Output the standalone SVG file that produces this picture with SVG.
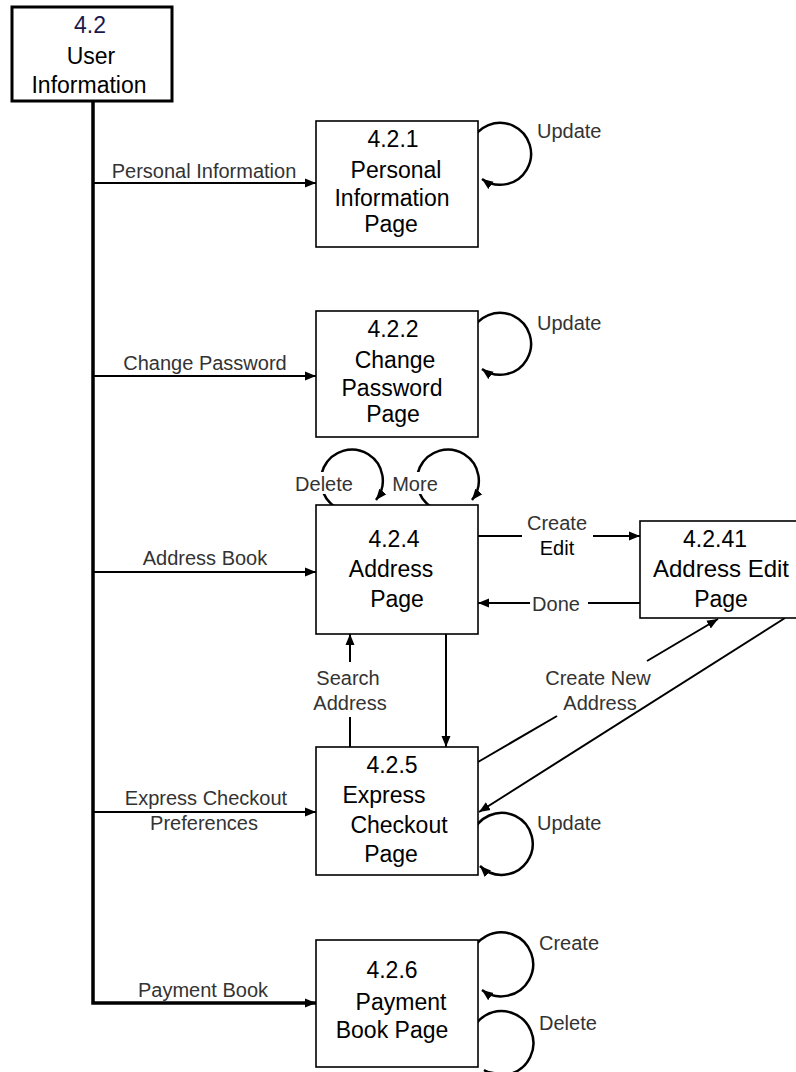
<svg xmlns="http://www.w3.org/2000/svg" width="796" height="1072" viewBox="0 0 796 1072">
<defs>
<marker id="ah" markerUnits="userSpaceOnUse" markerWidth="12" markerHeight="10" refX="11" refY="5" orient="auto">
<path d="M0,0.5 L11,5 L0,9.5 Z" fill="#000"/>
</marker>
<style>
.box{fill:#fff;stroke:#000;stroke-width:1.6}
.nt{font-family:"Liberation Sans",Arial,sans-serif;font-size:23px;fill:#000;text-anchor:middle}
.lb{font-family:"Liberation Sans",Arial,sans-serif;font-size:20px;fill:#333}
.mid{text-anchor:middle}
.ln{fill:none;stroke:#000;stroke-width:2}
.lp{fill:none;stroke:#000;stroke-width:2.5}
.bg{fill:#fff}
</style>
</defs>
<rect width="796" height="1072" fill="#fff"/>

<g id="connectors">
<path d="M93,101 V1003 H316" fill="none" stroke="#000" stroke-width="3.5" marker-end="url(#ah)"/>
<line class="ln" x1="93" y1="183" x2="316" y2="183" marker-end="url(#ah)"/>
<line class="ln" x1="93" y1="376" x2="316" y2="376" marker-end="url(#ah)"/>
<line class="ln" x1="93" y1="572" x2="316" y2="572" marker-end="url(#ah)"/>
<line class="ln" x1="93" y1="812" x2="316" y2="812" marker-end="url(#ah)"/>
<text class="lb mid" x="204" y="178">Personal Information</text>
<text class="lb mid" x="205" y="370">Change Password</text>
<text class="lb mid" x="205" y="565">Address Book</text>
<text class="lb mid" x="206" y="805">Express Checkout</text>
<text class="lb mid" x="204" y="830">Preferences</text>
<text class="lb mid" x="203" y="997">Payment Book</text>

<!-- self loops -->
<path class="lp" d="M471,143 A31,31 0 1 1 482,179" marker-end="url(#ah)"/>
<text class="lb" x="537" y="138">Update</text>
<path class="lp" d="M471,333 A31,31 0 1 1 482,369" marker-end="url(#ah)"/>
<text class="lb" x="537" y="330">Update</text>
<path class="lp" d="M472,835 A31,31 0 1 1 480,866" marker-end="url(#ah)"/>
<text class="lb" x="537" y="830">Update</text>
<path class="lp" d="M470,957 A32,32 0 1 1 482,990" marker-end="url(#ah)"/>
<text class="lb" x="539" y="950">Create</text>
<path class="lp" d="M470,1037 A32,32 0 1 1 484,1070" marker-end="url(#ah)"/>
<text class="lb" x="539" y="1030">Delete</text>

<path class="lp" d="M342,510 A31,31 0 1 1 376,500" marker-end="url(#ah)"/>
<rect class="bg" x="292" y="472" width="63" height="22"/>
<text class="lb mid" x="324" y="491">Delete</text>
<path class="lp" d="M438,510 A31,31 0 1 1 472,500" marker-end="url(#ah)"/>
<rect class="bg" x="391" y="472" width="48" height="22"/>
<text class="lb mid" x="415" y="491">More</text>

<!-- Create / Edit -->
<line class="ln" x1="478" y1="536" x2="522" y2="536"/>
<line class="ln" x1="593" y1="536" x2="640" y2="536" marker-end="url(#ah)"/>
<text class="lb mid" x="557" y="530">Create</text>
<text class="lb mid" x="557" y="555" style="fill:#000">Edit</text>
<!-- Done -->
<line class="ln" x1="640" y1="603" x2="588" y2="603"/>
<line class="ln" x1="530" y1="603" x2="478" y2="603" marker-end="url(#ah)"/>
<text class="lb mid" x="556" y="611">Done</text>
<!-- Search Address -->
<line class="ln" x1="350" y1="747" x2="350" y2="717"/>
<line class="ln" x1="350" y1="662" x2="350" y2="634" marker-end="url(#ah)"/>
<text class="lb mid" x="348" y="685">Search</text>
<text class="lb mid" x="350" y="710">Address</text>
<!-- down -->
<line class="ln" x1="446" y1="634" x2="446" y2="747" marker-end="url(#ah)"/>
<!-- Create New Address -->
<line class="ln" x1="478" y1="762" x2="557" y2="716"/>
<line class="ln" x1="647" y1="661" x2="718" y2="619" marker-end="url(#ah)"/>
<text class="lb mid" x="598" y="685">Create New</text>
<text class="lb mid" x="600" y="710">Address</text>
<line class="ln" x1="785" y1="618" x2="479" y2="812" marker-end="url(#ah)"/>
</g>

<g id="n42">
<rect x="12" y="7" width="160" height="94" fill="#fff" stroke="#000" stroke-width="3"/>
<text class="nt" x="90" y="33" style="fill:#1a1a4a">4.2</text>
<text class="nt" x="91" y="64">User</text>
<text class="nt" x="89" y="93">Information</text>
</g>

<g id="n421">
<rect class="box" x="316" y="121" width="162" height="126"/>
<text class="nt" x="393" y="147">4.2.1</text>
<text class="nt" x="396" y="178">Personal</text>
<text class="nt" x="392" y="206">Information</text>
<text class="nt" x="391" y="232">Page</text>
</g>

<g id="n422">
<rect class="box" x="316" y="311" width="162" height="126"/>
<text class="nt" x="393" y="337">4.2.2</text>
<text class="nt" x="395" y="368">Change</text>
<text class="nt" x="392" y="396">Password</text>
<text class="nt" x="393" y="422">Page</text>
</g>

<g id="n424">
<rect class="box" x="316" y="505" width="162" height="129"/>
<text class="nt" x="394" y="547">4.2.4</text>
<text class="nt" x="391" y="577">Address</text>
<text class="nt" x="397" y="607">Page</text>
</g>

<g id="n4241">
<rect class="box" x="640" y="521" width="160" height="97"/>
<text class="nt" x="715" y="547">4.2.41</text>
<text class="nt" x="721" y="577" style="font-size:24px">Address Edit</text>
<text class="nt" x="721" y="607">Page</text>
</g>

<g id="n425">
<rect class="box" x="316" y="747" width="162" height="128"/>
<text class="nt" x="392" y="773">4.2.5</text>
<text class="nt" x="384" y="803">Express</text>
<text class="nt" x="399" y="833">Checkout</text>
<text class="nt" x="391" y="862">Page</text>
</g>

<g id="n426">
<rect class="box" x="316" y="940" width="162" height="127"/>
<text class="nt" x="392" y="978">4.2.6</text>
<text class="nt" x="401" y="1010">Payment</text>
<text class="nt" x="392" y="1038">Book Page</text>
</g>
</svg>
